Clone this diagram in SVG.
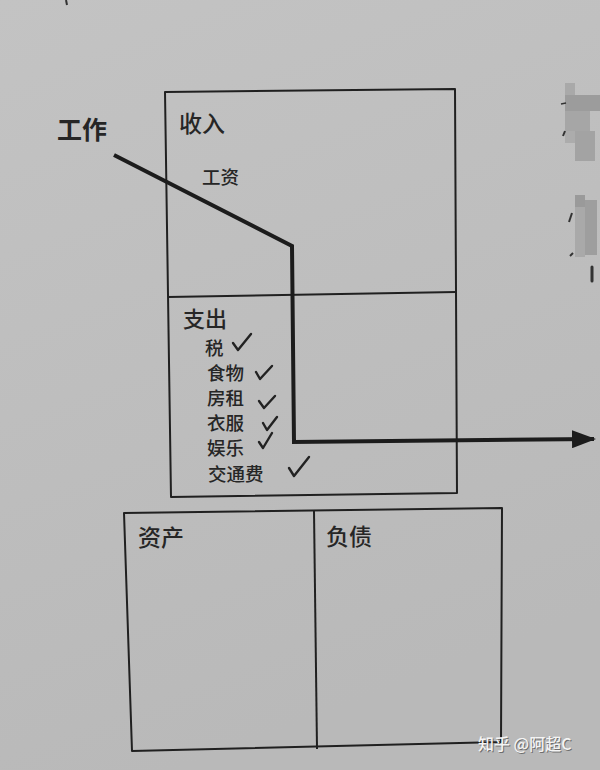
<svg xmlns="http://www.w3.org/2000/svg" width="600" height="770" viewBox="0 0 600 770">
  <defs>
    <linearGradient id="paper" x1="0" y1="0" x2="0.3" y2="1">
      <stop offset="0" stop-color="#c3c3c3"/>
      <stop offset="1" stop-color="#b9b9b9"/>
    </linearGradient>
    <marker id="arrow" markerWidth="6" markerHeight="4.5" refX="5.5" refY="2.25" orient="auto" markerUnits="strokeWidth">
      <path d="M0,0 L6,2.25 L0,4.5 Z" fill="#1c1c1c"/>
    </marker>
    <style>
      .box { fill: none; stroke: #202020; stroke-width: 2; stroke-linejoin: round; }
      .t { font-family: "Noto Sans CJK SC", "Noto Sans", sans-serif; fill: #262626; font-weight: 500; }
      .h { font-size: 23px; }
      .s { font-size: 18.5px; }
      .chk { fill: none; stroke: #222; stroke-width: 2.4; stroke-linecap: round; stroke-linejoin: round; }
      .conn { fill: none; stroke: #1c1c1c; stroke-width: 4; stroke-linejoin: miter; }
      .mos { stroke: none; }
    </style>
  </defs>

  <rect x="0" y="0" width="600" height="770" fill="url(#paper)"/>

  <!-- stray mark at top -->
  <path d="M66,0 L67,5" stroke="#333" stroke-width="2"/>

  <!-- blurred mosaic on right -->
  <g id="mosaic">
    <rect class="mos" x="565" y="83" width="10" height="12" fill="#a9a9a9"/>
    <rect class="mos" x="565" y="95" width="35" height="16" fill="#9c9c9c"/>
    <rect class="mos" x="565" y="111" width="25" height="20" fill="#a6a6a6"/>
    <rect class="mos" x="575" y="131" width="20" height="30" fill="#a3a3a3"/>
    <rect class="mos" x="565" y="131" width="10" height="12" fill="#acacac"/>
    <rect class="mos" x="575" y="195" width="10" height="12" fill="#9a9a9a"/>
    <rect class="mos" x="575" y="207" width="10" height="50" fill="#a9a9a9"/>
    <rect class="mos" x="585" y="200" width="12" height="55" fill="#9e9e9e"/>
    <path d="M561,104 L566,103" stroke="#333" stroke-width="1.5"/>
    <path d="M563,136 L565,131" stroke="#333" stroke-width="2"/>
    <path d="M569,222 L572,213" stroke="#333" stroke-width="2"/>
    <path d="M570,256 L573,253" stroke="#333" stroke-width="2"/>
    <path d="M592,267 L592,281" stroke="#333" stroke-width="3" stroke-linecap="round"/>
  </g>

  <!-- Income / Expense box -->
  <g id="income-statement">
    <path class="box" d="M165,92 L455,89 L457,493 L171,497 Z"/>
    <path class="box" d="M168,297 L456,292"/>
  </g>

  <g id="income">
    <text class="t h" x="179" y="132">收入</text>
    <text class="t s" x="202" y="184">工资</text>
  </g>

  <g id="expense">
    <text class="t h" x="183" y="327" style="font-size:22px">支出</text>
    <text class="t s" x="205" y="355">税</text>
    <text class="t s" x="207" y="380">食物</text>
    <text class="t s" x="207" y="405">房租</text>
    <text class="t s" x="207" y="430">衣服</text>
    <text class="t s" x="207" y="455">娱乐</text>
    <text class="t s" x="208" y="481">交通费</text>
    <path class="chk" d="M233,343 L238,350 L251,334"/>
    <path class="chk" d="M256,372 L260,379 L272,366"/>
    <path class="chk" d="M259,401 L264,408 L275,396"/>
    <path class="chk" d="M263,423 L267,430 L277,417"/>
    <path class="chk" d="M259,442 L263,448 L272,433"/>
    <path class="chk" d="M289,468 L294,476 L309,457"/>
  </g>

  <!-- Work label -->
  <g id="work">
    <text class="t" x="57" y="139" font-size="25" style="font-weight:bold">工作</text>
  </g>

  <!-- Balance sheet box -->
  <g id="balance-sheet">
    <path class="box" d="M124,513 L502,508 L501,742 L132,751 Z"/>
    <path class="box" d="M314,511 L317,749"/>
  </g>
  <g id="assets">
    <text class="t h" x="138" y="546">资产</text>
  </g>
  <g id="liabilities">
    <text class="t h" x="326" y="545">负债</text>
  </g>

  <!-- connectors -->
  <g id="connectors">
    <path class="conn" d="M114,155 L292,246 L294,442 L594,439" marker-end="url(#arrow)"/>
  </g>

  <!-- watermark -->
  <g id="watermark">
    <text class="t" x="479" y="751" font-size="16" fill="#555" opacity="0.5">知乎 @阿超C</text>
    <text class="t" x="478" y="750" font-size="16" style="fill:#f4f4f4">知乎 @阿超C</text>
  </g>
</svg>
